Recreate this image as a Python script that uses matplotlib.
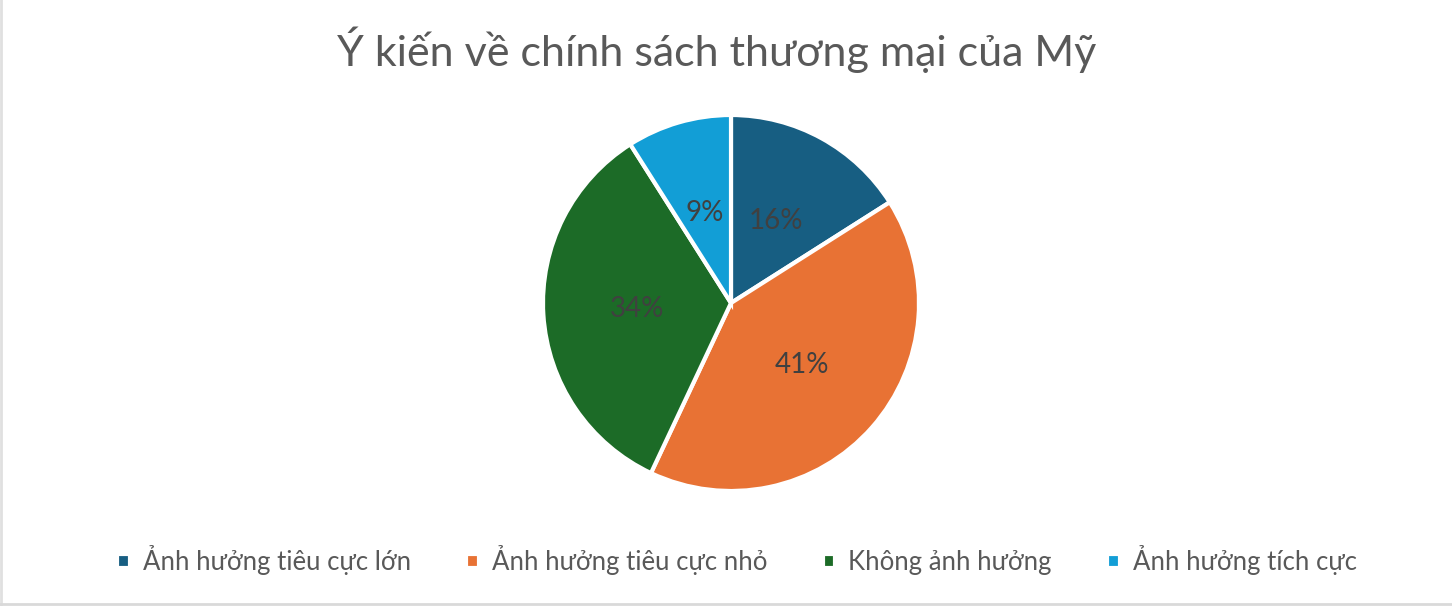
import matplotlib
matplotlib.use('Agg')
from matplotlib import pyplot as plt
from matplotlib.lines import Line2D

plt.rcParams['font.family'] = ['Lato', 'Noto Sans', 'DejaVu Sans']

title = 'Ý kiến về chính sách thương mại của Mỹ'
labels = ['Ảnh hưởng tiêu cực lớn', 'Ảnh hưởng tiêu cực nhỏ', 'Không ảnh hưởng', 'Ảnh hưởng tích cực']
values = [16, 41, 34, 9]
colors = ['#175e82', '#e87234', '#1c6b27', '#129ed6']

fig = plt.figure(figsize=(14.52, 6.06), dpi=100)
# pie area: center ~ (731, 303) px, radius ~ 188 px
ax = fig.add_axes([(731 - 188) / 1452, 1 - (303 + 188) / 606, 376 / 1452, 376 / 606])

wedges, texts, pcts = ax.pie(values, colors=colors, startangle=90, counterclock=False,
                             autopct='%1.0f%%', pctdistance=0.5,
                             wedgeprops=dict(edgecolor='white', linewidth=3))
for p in pcts:
    p.set_color('#404040')
    p.set_fontsize(20)
ax.set_xlim(-1, 1)
ax.set_ylim(-1, 1)
ax.set_aspect('equal')

fig.text(717 / 1452, 1 - 50 / 606, title, ha='center', va='center', fontsize=31, color='#595959')

leg = fig.legend(wedges, labels, loc='center', bbox_to_anchor=(737 / 1452, 1 - 560 / 606), ncol=4,
                 frameon=False, fontsize=18.5, handlelength=0.5, handleheight=0.5,
                 handletextpad=0.5, columnspacing=2.15)
for t in leg.get_texts():
    t.set_color('#595959')

# faint border on left and bottom, as in the screenshot
fig.lines.append(Line2D([0.001, 0.001], [0, 1], transform=fig.transFigure, color='#e0e0e0', lw=2))
fig.lines.append(Line2D([0, 1], [0.004, 0.004], transform=fig.transFigure, color='#d9d9d9', lw=2))

fig.savefig('out.png', dpi=100)
